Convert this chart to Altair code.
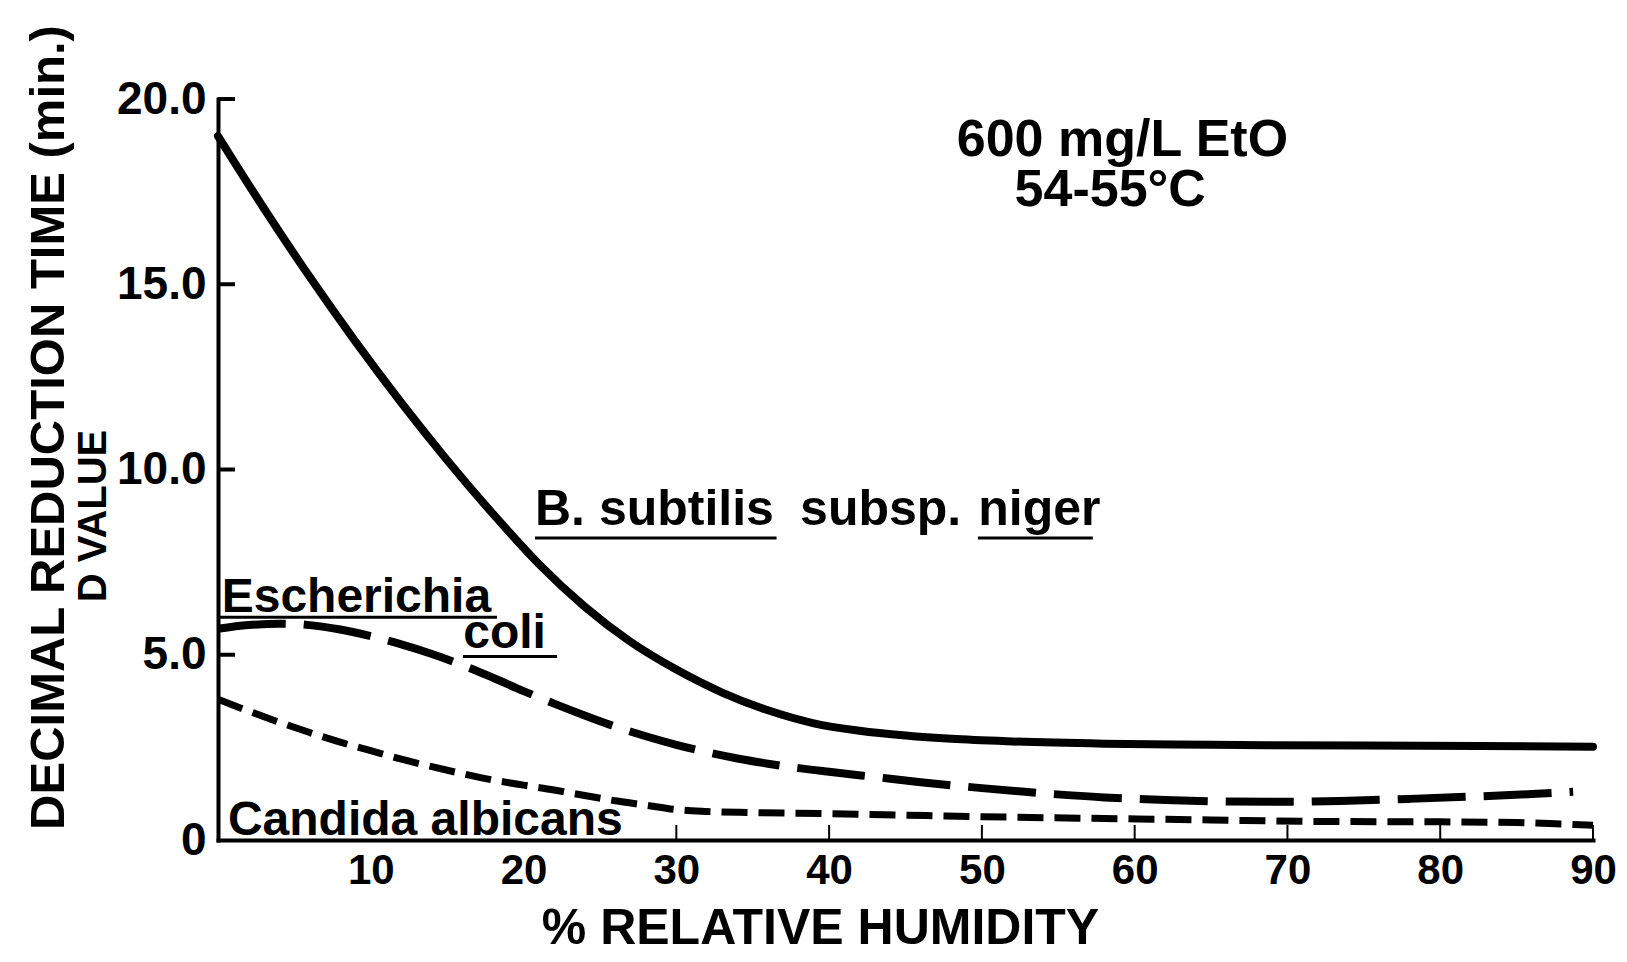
import altair as alt
import pandas as pd

# ---------------- data ----------------
# B. subtilis subsp. niger (solid line)
bs_x = [0, 3, 6, 9, 12, 15, 18, 21, 24, 27, 30, 33, 36, 39, 42, 45, 48, 52, 58, 65, 75, 90]
bs_y = [19.0, 17.05, 15.2, 13.45, 11.8, 10.25, 8.8, 7.45, 6.3, 5.35, 4.6, 3.98, 3.5,
        3.15, 2.95, 2.82, 2.73, 2.66, 2.6, 2.57, 2.55, 2.52]

# Escherichia coli (long dashes)
ec_x = [0, 2, 4, 6, 8, 10, 12, 14, 16, 18, 20, 22, 24, 26, 28, 30, 32, 34, 36, 38, 40,
        43, 46, 50, 54, 58, 62, 66, 70, 74, 78, 82, 86, 88.7]
ec_y = [5.7, 5.8, 5.84, 5.8, 5.68, 5.5, 5.28, 5.02, 4.72, 4.38, 4.02, 3.68, 3.36, 3.06,
        2.8, 2.57, 2.37, 2.2, 2.06, 1.94, 1.84, 1.7, 1.56, 1.4, 1.26, 1.15, 1.08, 1.04,
        1.03, 1.06, 1.11, 1.17, 1.24, 1.3]

# Candida albicans (short dashes)
ca_x = [0, 2, 4, 6, 8, 10, 12, 14, 16, 18, 20, 22, 24, 26, 28, 30, 32, 35, 40, 45, 50,
        58, 65, 72, 80, 85, 88, 90]
ca_y = [3.8, 3.48, 3.18, 2.9, 2.64, 2.41, 2.18, 1.98, 1.79, 1.62, 1.48, 1.35, 1.2, 1.06,
        0.94, 0.82, 0.77, 0.74, 0.71, 0.67, 0.63, 0.58, 0.54, 0.5, 0.49, 0.47, 0.43, 0.4]

# axis ticks / labels
x_tick_values = [10, 20, 30, 40, 50, 60, 70, 80, 90]
y_tick_values = [0, 5, 10, 15, 20]
x_inner_ticks = [30, 40, 50, 60, 70, 80, 90]
y_inner_ticks = [5, 10, 15, 20]

x_title = "% RELATIVE  HUMIDITY"
y_title = "DECIMAL  REDUCTION  TIME (min.)"
y_title2 = "D VALUE"

# species labels (data coordinates of left/baseline)
sp_labels = ["Escherichia", "coli", "Candida albicans"]
sp_x = [0.24, 16.05, 0.65]
sp_y = [6.16, 5.17, 0.135]

bs_labels = ["B. subtilis", "subsp.", "niger"]
bs_lx = [20.75, 38.1, 49.76]
bs_ly = [8.50, 8.50, 8.50]

# underlines
ul_x = [0.13, 16.03, 20.75, 49.74]
ul_x2 = [18.26, 22.19, 36.56, 57.26]
ul_y = [6.01, 4.95, 8.15, 8.15]

# conditions
cond_labels = ["600 mg/L EtO", "54-55°C"]
cond_x = [59.2, 58.4]
cond_y = [18.47, 17.1]

# ---------------- chart ----------------
FONT = "Liberation Sans, Arial, Helvetica, sans-serif"

xs = alt.Scale(domain=[0, 90], nice=False, zero=False)
ys = alt.Scale(domain=[0, 20], nice=False, zero=False)

x_axis = alt.Axis(
    values=x_tick_values, format="d", ticks=False, grid=False,
    labelFont=FONT, labelFontSize=42, labelFontWeight="bold", labelColor="black",
    labelPadding=10, labelFlush=False, labelOverlap=False,
    domainColor="black", domainWidth=4, domainCap="square",
    title=x_title, titleFont=FONT, titleFontSize=50, titleFontWeight="bold",
    titleColor="black", titleX=602, titleY=88, titleAlign="center",
    titleBaseline="middle",
)
y_axis = alt.Axis(
    values=y_tick_values, ticks=False, grid=False,
    labelExpr="datum.value == 0 ? '0' : format(datum.value, '.1f')",
    labelFont=FONT, labelFontSize=46, labelFontWeight="bold", labelColor="black",
    labelPadding=12, labelFlush=False, labelOverlap=False,
    domainColor="black", domainWidth=4, domainCap="square",
    title=y_title, titleFont=FONT, titleFontSize=49, titleFontWeight="bold",
    titleColor="black", titleAngle=270, titleX=-170, titleY=328,
    titleAlign="center", titleBaseline="middle",
)

df_bs = pd.DataFrame({"x": bs_x, "y": bs_y})
df_ec = pd.DataFrame({"x": ec_x, "y": ec_y})
df_ca = pd.DataFrame({"x": ca_x, "y": ca_y})


def X():
    return alt.X("x:Q", scale=xs, axis=x_axis)


def Y():
    return alt.Y("y:Q", scale=ys, axis=y_axis)


line_bs = alt.Chart(df_bs).mark_line(
    color="black", strokeWidth=8, interpolate="monotone", strokeCap="round"
).encode(x=X(), y=Y())

line_ec = alt.Chart(df_ec).mark_line(
    color="black", strokeWidth=8, interpolate="monotone", strokeDash=[68, 18]
).encode(x=X(), y=Y())

line_ca = alt.Chart(df_ca).mark_line(
    color="black", strokeWidth=7, interpolate="monotone", strokeDash=[26, 11]
).encode(x=X(), y=Y())

ytick_layer = alt.Chart(pd.DataFrame({"y": y_inner_ticks})).mark_rule(
    color="black", strokeWidth=4
).encode(y=Y(), x=alt.value(0), x2=alt.value(17))

xtick_layer = alt.Chart(pd.DataFrame({"x": x_inner_ticks})).mark_rule(
    color="black", strokeWidth=2
).encode(x=X(), y=alt.value(741), y2=alt.value(726))

sp_layer = alt.Chart(pd.DataFrame({"x": sp_x, "y": sp_y, "t": sp_labels})).mark_text(
    align="left", baseline="alphabetic", font=FONT, fontWeight="bold",
    fontSize=48, color="black"
).encode(x=X(), y=Y(), text="t:N")

bsl_layer = alt.Chart(pd.DataFrame({"x": bs_lx, "y": bs_ly, "t": bs_labels})).mark_text(
    align="left", baseline="alphabetic", font=FONT, fontWeight="bold",
    fontSize=50, color="black"
).encode(x=X(), y=Y(), text="t:N")

ul_layer = alt.Chart(pd.DataFrame({"x": ul_x, "x2": ul_x2, "y": ul_y})).mark_rule(
    color="black", strokeWidth=3
).encode(x=X(), x2="x2:Q", y=Y())

cond_layer = alt.Chart(pd.DataFrame({"x": cond_x, "y": cond_y, "t": cond_labels})).mark_text(
    align="center", baseline="alphabetic", font=FONT, fontWeight="bold",
    fontSize=52, color="black"
).encode(x=X(), y=Y(), text="t:N")

dvalue_layer = alt.Chart(pd.DataFrame({"t": [y_title2]})).mark_text(
    angle=270, align="center", baseline="middle", font=FONT, fontWeight="bold",
    fontSize=40, color="black"
).encode(x=alt.value(-124), y=alt.value(417), text="t:N")

chart = alt.layer(
    line_bs, line_ec, line_ca, ytick_layer, xtick_layer, sp_layer, bsl_layer,
    ul_layer, cond_layer, dvalue_layer
).properties(
    width=1375, height=741,
    autosize=alt.AutoSizeParams(type="none"),
    padding={"left": 210, "top": 91, "right": 26, "bottom": 114},
    background="white",
).configure_view(stroke=None)

chart.save("out.html", embed_options={"renderer": "svg", "actions": False})
